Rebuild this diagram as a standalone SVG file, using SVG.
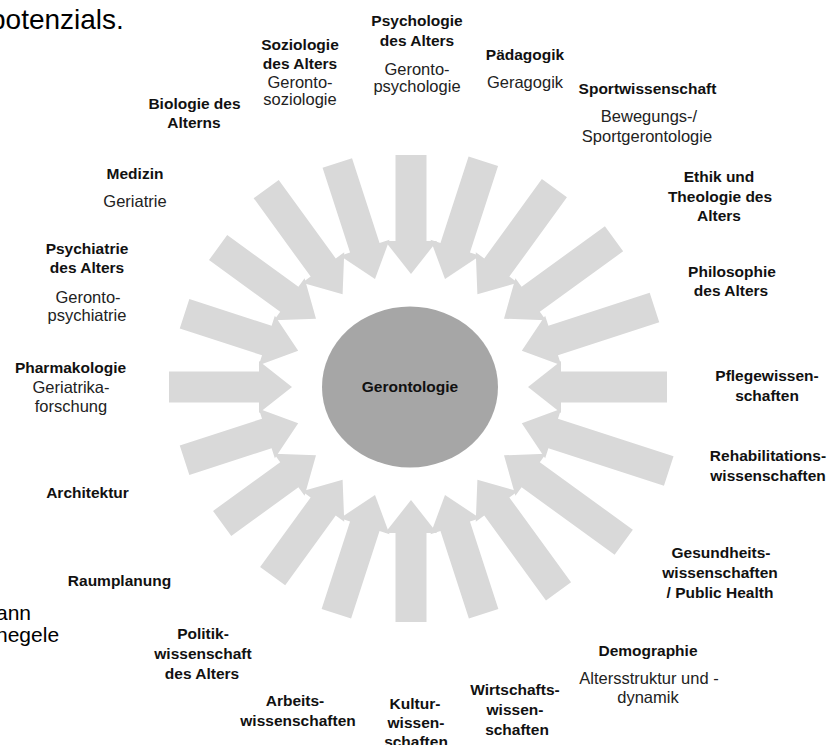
<svg xmlns="http://www.w3.org/2000/svg" width="838" height="745" viewBox="0 0 838 745">
<style>
.arr{fill:#d9d9d9}
.b{font-family:"Liberation Sans",Arial,sans-serif;font-weight:bold;font-size:15.5px;fill:#111;text-anchor:middle}
.r{font-family:"Liberation Sans",Arial,sans-serif;font-size:16.5px;fill:#222;text-anchor:middle}
.doc{font-family:"Liberation Sans",Arial,sans-serif;fill:#000}
</style>
<rect width="838" height="745" fill="#fff"/>
<text class="doc" x="-10" y="29" font-size="28">potenzials.</text>
<text class="doc" x="-4" y="620" font-size="21">ann</text>
<text class="doc" x="-4" y="642" font-size="21">negele</text>
<g id="connectors">
<polygon class="arr" transform="translate(528,387) rotate(180)" points="0,0 -33,-26 -33,-15.5 -139,-15.5 -139,15.5 -33,15.5 -33,26"/>
<polygon class="arr" transform="translate(521.8,423.3) rotate(198)" points="0,0 -33,-26 -33,-15.5 -154.5,-15.5 -154.5,15.5 -33,15.5 -33,26"/>
<polygon class="arr" transform="translate(504,455.3) rotate(216)" points="0,0 -33,-26 -33,-15.5 -148,-15.5 -148,15.5 -33,15.5 -33,26"/>
<polygon class="arr" transform="translate(477.4,479.8) rotate(234)" points="0,0 -33,-26 -33,-15.5 -138,-15.5 -138,15.5 -33,15.5 -33,26"/>
<polygon class="arr" transform="translate(445,494.9) rotate(252)" points="0,0 -33,-26 -33,-15.5 -125,-15.5 -125,15.5 -33,15.5 -33,26"/>
<polygon class="arr" transform="translate(411,500) rotate(270)" points="0,0 -33,-26 -33,-15.5 -122,-15.5 -122,15.5 -33,15.5 -33,26"/>
<polygon class="arr" transform="translate(375,494.9) rotate(288)" points="0,0 -33,-26 -33,-15.5 -125,-15.5 -125,15.5 -33,15.5 -33,26"/>
<polygon class="arr" transform="translate(342.6,479.8) rotate(306)" points="0,0 -33,-26 -33,-15.5 -119,-15.5 -119,15.5 -33,15.5 -33,26"/>
<polygon class="arr" transform="translate(316,455.3) rotate(324)" points="0,0 -33,-26 -33,-15.5 -116,-15.5 -116,15.5 -33,15.5 -33,26"/>
<polygon class="arr" transform="translate(298.2,423.3) rotate(342)" points="0,0 -33,-26 -33,-15.5 -119.5,-15.5 -119.5,15.5 -33,15.5 -33,26"/>
<polygon class="arr" transform="translate(292,387) rotate(0)" points="0,0 -33,-26 -33,-15.5 -123,-15.5 -123,15.5 -33,15.5 -33,26"/>
<polygon class="arr" transform="translate(298.2,350.7) rotate(18)" points="0,0 -33,-26 -33,-15.5 -119.5,-15.5 -119.5,15.5 -33,15.5 -33,26"/>
<polygon class="arr" transform="translate(316,318.7) rotate(36)" points="0,0 -33,-26 -33,-15.5 -121,-15.5 -121,15.5 -33,15.5 -33,26"/>
<polygon class="arr" transform="translate(342.6,294.2) rotate(54)" points="0,0 -33,-26 -33,-15.5 -130,-15.5 -130,15.5 -33,15.5 -33,26"/>
<polygon class="arr" transform="translate(375,279.1) rotate(72)" points="0,0 -33,-26 -33,-15.5 -122,-15.5 -122,15.5 -33,15.5 -33,26"/>
<polygon class="arr" transform="translate(411,274) rotate(90)" points="0,0 -33,-26 -33,-15.5 -119,-15.5 -119,15.5 -33,15.5 -33,26"/>
<polygon class="arr" transform="translate(445,279.1) rotate(108)" points="0,0 -33,-26 -33,-15.5 -124,-15.5 -124,15.5 -33,15.5 -33,26"/>
<polygon class="arr" transform="translate(477.4,294.2) rotate(126)" points="0,0 -33,-26 -33,-15.5 -131,-15.5 -131,15.5 -33,15.5 -33,26"/>
<polygon class="arr" transform="translate(504,318.7) rotate(144)" points="0,0 -33,-26 -33,-15.5 -136,-15.5 -136,15.5 -33,15.5 -33,26"/>
<polygon class="arr" transform="translate(521.8,350.7) rotate(162)" points="0,0 -33,-26 -33,-15.5 -139.5,-15.5 -139.5,15.5 -33,15.5 -33,26"/>
</g>
<g id="gerontologie">
<ellipse cx="410" cy="387" rx="88" ry="80.5" fill="#a6a6a6"/>
<text class="b" x="410" y="392" font-size="16" fill="#1a1a1a">Gerontologie</text>
</g>
<g id="psychologie"><text class="b" x="417" y="26">Psychologie</text><text class="b" x="417" y="46">des Alters</text><text class="r" x="417" y="75">Geronto-</text><text class="r" x="417" y="92">psychologie</text></g>
<g id="paedagogik"><text class="b" x="525" y="60">Pädagogik</text><text class="r" x="525" y="88">Geragogik</text></g>
<g id="sportwissenschaft"><text class="b" x="647.5" y="94">Sportwissenschaft</text><text class="r" x="649" y="122">Bewegungs-/</text><text class="r" x="647" y="142">Sportgerontologie</text></g>
<g id="ethik"><text class="b" x="719" y="182">Ethik und</text><text class="b" x="720" y="202">Theologie des</text><text class="b" x="719" y="221">Alters</text></g>
<g id="philosophie"><text class="b" x="732" y="277">Philosophie</text><text class="b" x="731" y="296">des Alters</text></g>
<g id="pflege"><text class="b" x="767" y="381">Pflegewissen-</text><text class="b" x="767" y="401">schaften</text></g>
<g id="rehabilitation"><text class="b" x="768" y="461">Rehabilitations-</text><text class="b" x="768" y="481">wissenschaften</text></g>
<g id="gesundheit"><text class="b" x="721" y="558">Gesundheits-</text><text class="b" x="720" y="578">wissenschaften</text><text class="b" x="720" y="598">/ Public Health</text></g>
<g id="demographie"><text class="b" x="648" y="656">Demographie</text><text class="r" x="649" y="684">Altersstruktur und -</text><text class="r" x="648" y="703">dynamik</text></g>
<g id="wirtschaft"><text class="b" x="515" y="695">Wirtschafts-</text><text class="b" x="515" y="715">wissen-</text><text class="b" x="517" y="735">schaften</text></g>
<g id="kultur"><text class="b" x="415" y="709">Kultur-</text><text class="b" x="416" y="728">wissen-</text><text class="b" x="416" y="747">schaften</text></g>
<g id="arbeit"><text class="b" x="295" y="706">Arbeits-</text><text class="b" x="298" y="726">wissenschaften</text></g>
<g id="politik"><text class="b" x="203" y="639">Politik-</text><text class="b" x="203" y="659">wissenschaft</text><text class="b" x="202" y="679">des Alters</text></g>
<g id="raumplanung"><text class="b" x="119.5" y="586">Raumplanung</text></g>
<g id="architektur"><text class="b" x="87.5" y="498">Architektur</text></g>
<g id="pharmakologie"><text class="b" x="70.5" y="373">Pharmakologie</text><text class="r" x="71" y="393">Geriatrika-</text><text class="r" x="71" y="412">forschung</text></g>
<g id="psychiatrie"><text class="b" x="87" y="254">Psychiatrie</text><text class="b" x="87" y="273">des Alters</text><text class="r" x="88" y="303">Geronto-</text><text class="r" x="87" y="321">psychiatrie</text></g>
<g id="medizin"><text class="b" x="135" y="179">Medizin</text><text class="r" x="135" y="207">Geriatrie</text></g>
<g id="biologie"><text class="b" x="194.5" y="109">Biologie des</text><text class="b" x="194" y="128">Alterns</text></g>
<g id="soziologie"><text class="b" x="300" y="50">Soziologie</text><text class="b" x="300" y="69">des Alters</text><text class="r" x="300" y="88">Geronto-</text><text class="r" x="300" y="105">soziologie</text></g>
</svg>
